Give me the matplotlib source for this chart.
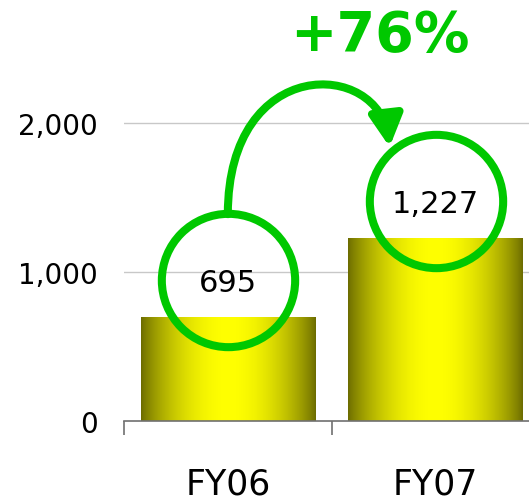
import matplotlib
matplotlib.use('Agg')
import matplotlib.pyplot as plt
import numpy as np
from matplotlib.patches import FancyArrowPatch
from matplotlib.path import Path
from matplotlib.ticker import FuncFormatter

categories = ['FY06', 'FY07']
values = [695, 1227]
yticks = [0, 1000, 2000]

GREEN = '#00c800'
DARK = np.array([0.42, 0.42, 0.0])
BRIGHT = np.array([1.0, 1.0, 0.0])

fig = plt.figure(figsize=(5.29, 5.02), dpi=100)
ax = fig.add_axes([0.2344, 0.1594, 0.7656, 0.8406])

# bars with horizontal gradient (dark edges, bright yellow center)
width = 0.84
t = np.linspace(0, 1, 256)
prof = np.sin(np.pi * t) ** 0.8
grad = DARK[None, :] + (BRIGHT - DARK)[None, :] * prof[:, None]
grad = grad[None, :, :]
x = np.arange(len(categories))
bars = ax.bar(x, values, width=width, color='none', edgecolor='none', zorder=2)
for b in bars:
    x0, y0 = b.get_x(), b.get_y()
    w, h = b.get_width(), b.get_height()
    im = ax.imshow(grad, extent=[x0, x0 + w, y0, y0 + h], aspect='auto', zorder=2,
                   interpolation='bilinear')
    im.set_clip_path(b)

# gridlines
for yv in yticks[1:]:
    ax.axhline(yv, color='#c8c8c8', lw=1, zorder=1)

# value labels in circles
offset_txt = 232
offset_circ = 250
for xi, v in zip(x, values):
    ax.text(xi, v + offset_txt, f'{v:,}', ha='center', va='center', fontsize=22, color='black', zorder=5)
    ax.plot(xi, v + offset_circ, 'o', ms=96, mfc='none', mec=GREEN, mew=5.8, zorder=4)

# curved arrow from FY06 circle to FY07 circle
p0 = (0, values[0] + offset_circ + 443)
verts = [p0, (0, 2463), (0.731, 2430), (0.779, values[1] + 612)]
path = Path(verts, [Path.MOVETO, Path.CURVE4, Path.CURVE4, Path.CURVE4])
arrow = FancyArrowPatch(path=path, arrowstyle='-|>,head_length=0.75,head_width=0.4',
                        mutation_scale=25, color=GREEN, lw=5.8, zorder=4,
                        shrinkA=0, shrinkB=0)
ax.add_patch(arrow)

growth = (values[1] / values[0] - 1) * 100
ax.text(0.73, 2590, f'+{int(growth)}%', ha='center', va='center', fontsize=40,
        fontweight='bold', color=GREEN, zorder=5)

# axes styling
for s in ['top', 'right', 'left']:
    ax.spines[s].set_visible(False)
ax.spines['bottom'].set_color('#707070')
ax.spines['bottom'].set_linewidth(1.2)
ax.set_yticks(yticks)
ax.yaxis.set_major_formatter(FuncFormatter(lambda v, p: f'{int(v):,}'))
ax.tick_params(axis='y', length=0, pad=19, labelsize=20)
ax.set_xticks(x)
ax.set_xticklabels(categories)
ax.set_xticks([-0.5, 0.5, 1.5], minor=True)
ax.tick_params(axis='x', which='major', length=0, pad=33, labelsize=25)
ax.tick_params(axis='x', which='minor', length=10, width=1.2, color='#707070')
ax.set_xlim(-0.5, 1.45)
ax.set_ylim(0, 2832)

fig.savefig('out.png', dpi=100)
